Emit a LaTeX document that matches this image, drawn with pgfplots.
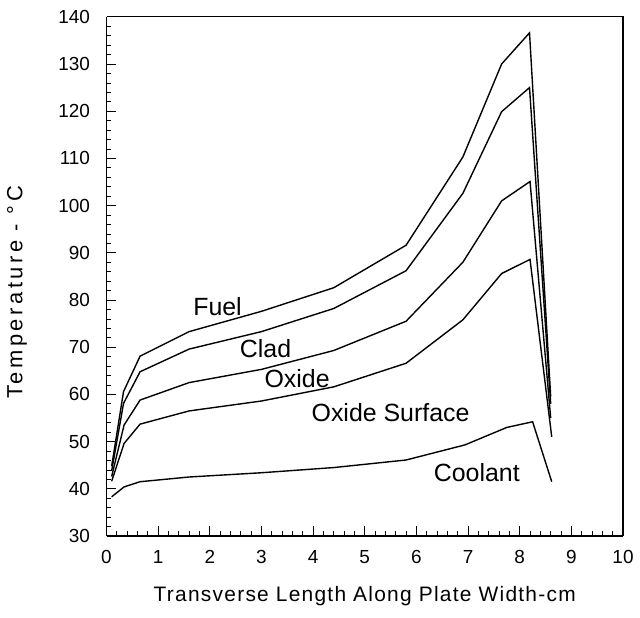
\documentclass[border=0pt]{standalone}
\usepackage{fontspec}
\setmainfont{Liberation Sans}
\usepackage{pgfplots}
\pgfplotsset{compat=1.18}
\begin{document}
\begin{tikzpicture}
\useasboundingbox (0,0) rectangle (640bp,618bp);
\begin{axis}[
  at={(106.5bp,82bp)}, anchor=south west,
  width=516.5bp, height=519.2bp, scale only axis,
  xmin=0, xmax=10, ymin=30, ymax=140,
  xtick={0,1,...,10}, ytick={30,40,...,140},
  minor x tick num=4, minor y tick num=4,
  axis x line*=bottom, axis y line*=left,
  tick align=inside,
  major tick length=10bp, minor tick length=5bp,
  axis line style={line width=1.3pt, -},
  every tick/.style={line width=0.7pt, black},
  /pgf/number format/assume math mode=true,
  ticklabel style={font=\fontsize{19}{21}\selectfont},
  xticklabel style={yshift=-11bp},
  yticklabel style={xshift=-13bp},
  xlabel={\addfontfeature{LetterSpace=6}Transverse Length Along Plate Width-cm},
  ylabel={\addfontfeature{LetterSpace=16}Temperature - °C},
  xlabel style={font=\fontsize{21}{23}\selectfont, at={(axis description cs:0.5,0)}, anchor=center, yshift=-60bp},
  ylabel style={font=\fontsize{22}{24}\selectfont, at={(axis description cs:0,0.5)}, anchor=center, yshift=89.5bp, xshift=-16bp},
  every axis plot post/.style={black, line width=1.4pt, line join=miter, mark=none},
  clip=false,
]
% right and top frame lines
\draw[line width=1.3pt] (axis cs:0,140) -- (axis cs:10,140) -- (axis cs:10,30);
% Fuel
\addplot coordinates {(0.1,44.8) (0.33,60.6) (0.65,68.1) (1.6,73.3) (3.0,77.6) (4.4,82.6) (5.8,91.6) (6.9,110.3) (7.65,130.0) (8.19,136.6) (8.6,59.5)};
% Clad
\addplot coordinates {(0.1,43.8) (0.33,58.1) (0.65,64.8) (1.6,69.6) (3.0,73.3) (4.4,78.2) (5.8,86.2) (6.9,102.6) (7.65,119.9) (8.19,125.0) (8.6,58.0)};
% Oxide
\addplot coordinates {(0.1,42.6) (0.34,53.5) (0.65,58.8) (1.6,62.5) (3.0,65.3) (4.4,69.3) (5.8,75.5) (6.9,88.0) (7.65,101.0) (8.2,105.1) (8.6,55.0)};
% Oxide Surface
\addplot coordinates {(0.1,41.6) (0.34,49.6) (0.65,53.7) (1.6,56.5) (3.0,58.6) (4.4,61.6) (5.8,66.6) (6.9,75.8) (7.65,85.6) (8.2,88.6) (8.62,51.0)};
% Coolant
\addplot coordinates {(0.1,38.3) (0.34,40.4) (0.65,41.5) (1.6,42.5) (3.0,43.4) (4.4,44.5) (5.8,46.1) (6.94,49.3) (7.75,53.0) (8.25,54.2) (8.62,41.5)};
\node[font=\fontsize{25}{27}\selectfont] at (axis cs:2.15,78.5) {Fuel};
\node[font=\fontsize{25}{27}\selectfont] at (axis cs:3.08,69.7) {Clad};
\node[font=\fontsize{25}{27}\selectfont] at (axis cs:3.69,63.3) {Oxide};
\node[font=\fontsize{25}{27}\selectfont] at (axis cs:5.50,56.1) {Oxide Surface};
\node[font=\fontsize{25}{27}\selectfont] at (axis cs:7.17,43.5) {Coolant};
\end{axis}
\end{tikzpicture}
\end{document}
